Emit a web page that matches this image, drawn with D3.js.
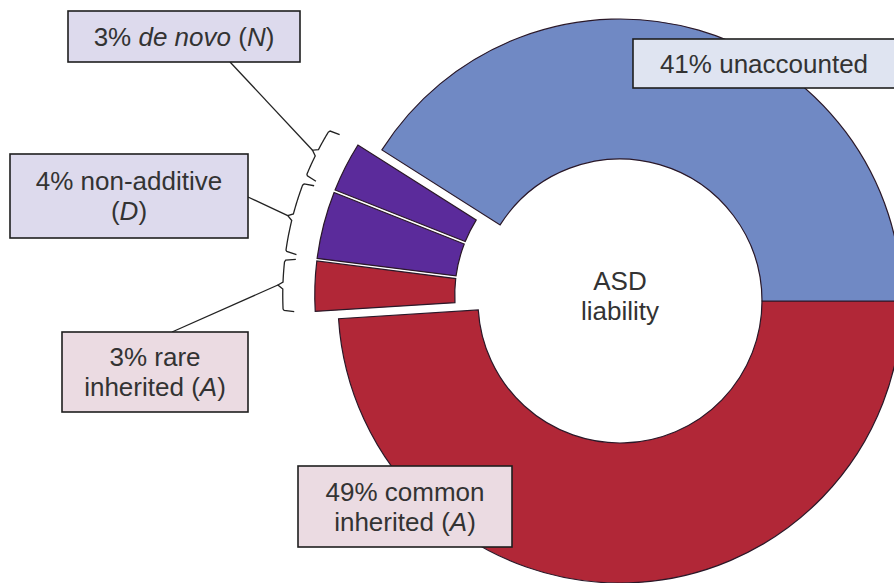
<!DOCTYPE html>
<html>
<head>
<meta charset="utf-8">
<script src="https://cdn.jsdelivr.net/npm/d3@7"></script>
<style>
  body { margin: 0; background: #fff; }
  svg { display: block; font-family: "Liberation Sans", Arial, sans-serif; }
</style>
</head>
<body>
<div id="chart"></div>
<script>
// data
var categories = ["common inherited", "rare inherited", "non-additive", "de novo", "unaccounted"];
var shares = [49, 3, 4, 3, 41];
var pulledOut = [false, true, true, true, false];
var sliceColors = ["#b12737", "#b12737", "#5b2b9b", "#5b2b9b", "#7089c4"];

// label lines, each line is a list of [text, italic]
var labelText = [
  [[["49% common", false]], [["inherited (", false], ["A", true], [")", false]]],
  [[["3% rare", false]], [["inherited (", false], ["A", true], [")", false]]],
  [[["4% non-additive", false]], [["(", false], ["D", true], [")", false]]],
  [[["3% ", false], ["de novo", true], [" (", false], ["N", true], [")", false]]],
  [[["41% unaccounted", false]]]
];
var centerText = ["ASD", "liability"];

// layout of the label boxes (not data)
var boxLayout = [
  { x: 298, y: 466, w: 214, h: 81, fill: "#ebdbe2" },
  { x: 62, y: 332, w: 186, h: 80, fill: "#ebdbe2", anchor: [172, 332] },
  { x: 10, y: 154, w: 238, h: 84, fill: "#dddaed", anchor: [248, 197] },
  { x: 68, y: 11, w: 232, h: 51, fill: "#dddaed", anchor: [230, 62] },
  { x: 633, y: 39, w: 262, h: 49, fill: "#dfe4f1" }
];

var w = 894;
var h = 583;
var cx = 620;
var cy = 301;
var rIn = 142;
var rOut = 282;
var pullDist = 24;
var rBracket = rOut + 32;
var fontSize = 26;

var svg = d3
  .select("#chart")
  .append("svg")
  .attr("width", w)
  .attr("height", h);

var pie = d3
  .pie()
  .sort(null)
  .startAngle(Math.PI / 2)
  .endAngle(Math.PI / 2 + 2 * Math.PI);

var slices = pie(shares);
slices.forEach((d, i) => {
  d.pulled = pulledOut[i];
  d.color = sliceColors[i];
});

// the pulled-out group moves along its middle angle
var pulled = slices.filter((d) => d.pulled);
var groupAngle = (pulled[0].startAngle + pulled[pulled.length - 1].endAngle) / 2;
var sx = pullDist * Math.sin(groupAngle);
var sy = -pullDist * Math.cos(groupAngle);

var bigArc = d3.arc().innerRadius(rIn).outerRadius(rOut);
var smallArc = d3
  .arc()
  .innerRadius(rIn)
  .outerRadius(rOut)
  .padRadius(220)
  .padAngle(0.012);

var ring = svg.append("g").attr("transform", `translate(${cx},${cy})`);

ring
  .selectAll(".big")
  .data(slices.filter((d) => !d.pulled))
  .enter()
  .append("path")
  .attr("class", "big")
  .attr("d", bigArc)
  .attr("fill", (d) => d.color)
  .attr("stroke", "#2a1828")
  .attr("stroke-width", 1.2);

var outGroup = svg
  .append("g")
  .attr("transform", `translate(${cx + sx},${cy + sy})`);

outGroup
  .selectAll(".small")
  .data(pulled)
  .enter()
  .append("path")
  .attr("class", "small")
  .attr("d", smallArc)
  .attr("fill", (d) => d.color)
  .attr("stroke", "#2a1828")
  .attr("stroke-width", 1.2);

// brackets
function pt(r, a) {
  return [r * Math.sin(a), -r * Math.cos(a)];
}

function bracketPoints(d) {
  var m = 0.012;
  var a0 = d.startAngle + m;
  var a1 = d.endAngle - m;
  var am = (a0 + a1) / 2;
  var k = 0.01;
  var pts = [pt(rBracket - 11, a0 - 0.004), pt(rBracket - 1, a0 + 0.002)];
  d3.range(a0 + 0.006, am - k, 0.004).forEach((a) => pts.push(pt(rBracket, a)));
  pts.push(pt(rBracket + 5, am));
  d3.range(am + k, a1 - 0.006, 0.004).forEach((a) => pts.push(pt(rBracket, a)));
  pts.push(pt(rBracket - 1, a1 - 0.002), pt(rBracket - 11, a1 + 0.004));
  return pts;
}

outGroup
  .selectAll(".bracket")
  .data(pulled)
  .enter()
  .append("path")
  .attr("class", "bracket")
  .attr("d", (d) => d3.line()(bracketPoints(d)))
  .attr("fill", "none")
  .attr("stroke", "#222")
  .attr("stroke-width", 1.3);

// leader lines from the bracket notch to the box
svg
  .append("g")
  .selectAll("line")
  .data(slices.filter((d, i) => boxLayout[i].anchor))
  .enter()
  .append("line")
  .attr("x1", (d) => boxLayout[d.index].anchor[0])
  .attr("y1", (d) => boxLayout[d.index].anchor[1])
  .attr("x2", (d) => cx + sx + pt(rBracket + 5, (d.startAngle + d.endAngle) / 2)[0])
  .attr("y2", (d) => cy + sy + pt(rBracket + 5, (d.startAngle + d.endAngle) / 2)[1])
  .attr("stroke", "#222")
  .attr("stroke-width", 1.3);

// label boxes
var labels = svg
  .append("g")
  .selectAll("g")
  .data(slices)
  .enter()
  .append("g");

labels
  .append("rect")
  .attr("x", (d) => boxLayout[d.index].x)
  .attr("y", (d) => boxLayout[d.index].y)
  .attr("width", (d) => boxLayout[d.index].w)
  .attr("height", (d) => boxLayout[d.index].h)
  .attr("fill", (d) => boxLayout[d.index].fill)
  .attr("stroke", "#1e1e1e")
  .attr("stroke-width", 1.6);

labels.each(function (d) {
  var b = boxLayout[d.index];
  var lines = labelText[d.index];
  var mid = b.y + b.h / 2;
  var first = mid + 9 - ((lines.length - 1) * 30) / 2;
  var t = d3
    .select(this)
    .append("text")
    .attr("text-anchor", "middle")
    .attr("font-size", fontSize)
    .attr("fill", "#333");
  lines.forEach((line, li) => {
    var row = t
      .append("tspan")
      .attr("x", b.x + b.w / 2)
      .attr("y", first + li * 30);
    line.forEach((part) => {
      row
        .append("tspan")
        .attr("font-style", part[1] ? "italic" : "normal")
        .text(part[0]);
    });
  });
});

// centre text
svg
  .append("text")
  .attr("text-anchor", "middle")
  .attr("font-size", fontSize)
  .attr("fill", "#333")
  .selectAll("tspan")
  .data(centerText)
  .enter()
  .append("tspan")
  .attr("x", cx)
  .attr("y", (d, i) => cy - 11 + i * 30)
  .text((d) => d);
</script>
</body>
</html>
